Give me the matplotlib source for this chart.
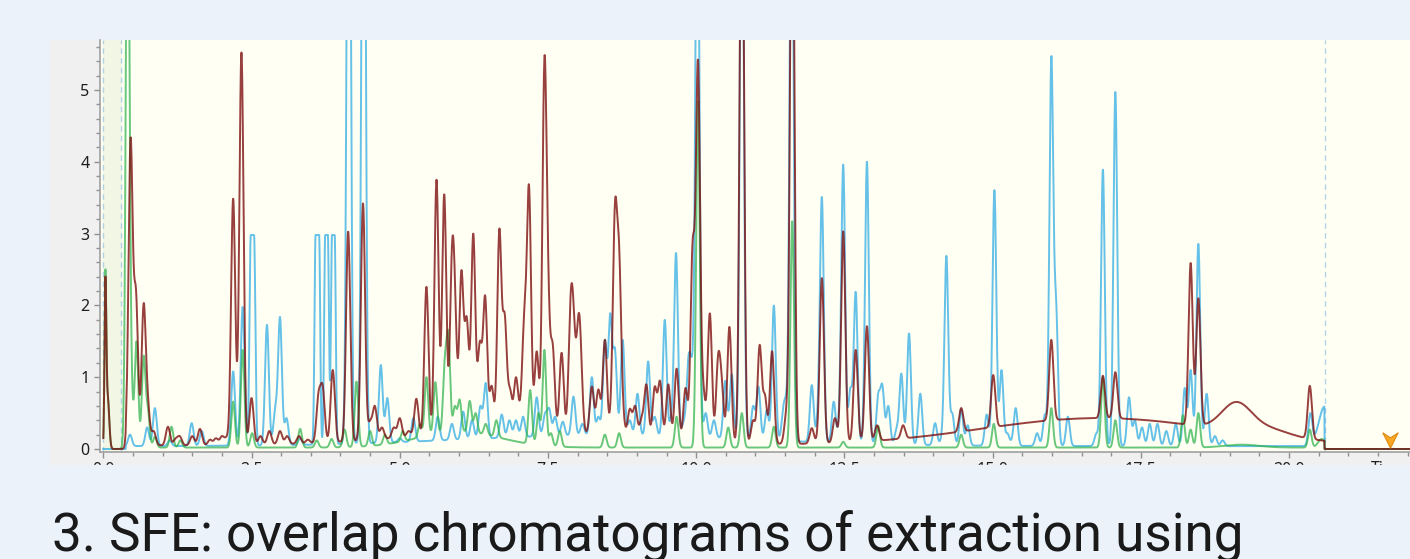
import numpy as np
import matplotlib
matplotlib.use('Agg')
from matplotlib import pyplot as plt
from matplotlib import transforms
from matplotlib.patches import Rectangle
from matplotlib.path import Path
from matplotlib.ticker import MultipleLocator, FormatStrFormatter

# apex values: (retention time [min], signal at apex)
blue_apex = [
    (0.45, 0.2), (0.74, 0.3), (0.87, 0.57), (1.12, 0.12), (1.49, 0.36), (1.66, 0.25),
    (2.19, 1.08), (2.35, 1.98), (2.76, 1.73), (2.90, 0.59), (2.98, 1.84), (3.09, 0.43),
    (3.32, 0.15), (4.14, 12.0), (4.39, 12.0), (4.68, 1.17), (4.79, 0.71), (5.00, 0.15),
    (5.23, 0.43), (5.64, 0.45), (5.88, 0.35), (6.07, 0.52), (6.22, 0.4), (6.36, 0.6),
    (6.45, 0.92), (6.72, 0.48), (6.85, 0.4), (6.96, 0.4), (7.08, 0.45), (7.31, 0.72),
    (7.45, 0.5), (7.52, 0.57), (7.62, 0.45), (7.75, 0.38), (7.93, 0.73), (8.08, 0.35),
    (8.24, 1.0), (8.35, 0.45), (8.46, 1.52), (8.55, 1.89), (8.63, 1.4), (8.76, 1.52),
    (8.88, 0.4), (9.01, 0.77), (9.19, 1.22), (9.30, 0.45), (9.47, 1.8), (9.58, 0.5),
    (9.66, 2.73), (9.79, 0.4), (9.87, 1.3), (9.93, 1.3), (10.02, 9.0), (10.16, 0.5),
    (10.30, 0.4), (10.49, 0.95), (10.60, 1.04), (10.77, 9.0), (10.96, 0.6), (11.05, 0.87),
    (11.19, 0.54), (11.31, 2.0), (11.47, 0.6), (11.52, 0.8), (11.61, 9.0), (11.95, 0.89),
    (12.06, 0.95), (12.12, 3.51), (12.32, 0.66), (12.42, 0.95), (12.48, 3.96), (12.60, 0.85),
    (12.69, 2.19), (12.88, 4.0), (13.07, 0.78), (13.14, 0.9), (13.24, 0.6), (13.38, 0.3),
    (13.46, 1.05), (13.59, 1.61), (13.78, 0.77), (14.03, 0.36), (14.15, 0.38), (14.22, 2.69),
    (14.32, 0.5), (14.47, 0.55), (14.58, 0.33), (14.90, 0.48), (15.03, 3.61), (15.15, 1.1),
    (15.25, 0.22), (15.33, 0.18), (15.39, 0.57), (15.75, 0.22), (15.88, 0.48), (15.99, 5.47),
    (16.07, 2.12), (16.27, 0.45), (16.75, 0.22), (16.86, 3.89), (17.07, 4.98), (17.30, 0.72),
    (17.40, 0.4), (17.52, 0.3), (17.65, 0.35), (17.78, 0.35), (17.93, 0.25), (18.09, 0.35),
    (18.24, 0.85), (18.34, 1.1), (18.47, 2.86), (18.61, 0.77), (18.75, 0.18), (18.88, 0.12),
    (20.36, 0.5),
]
# flat topped blue peaks: (time, plateau value, plateau width, flank sigma)
blue_flat = [(2.515, 2.98, 0.055, 0.022), (3.61, 2.98, 0.06, 0.018),
             (3.765, 2.98, 0.045, 0.018), (3.88, 2.98, 0.045, 0.018)]
# slow background features: (time, height, sigma)
blue_broad = [(8.5, 0.15, 2.5), (20.6, 0.55, 0.1)]

red_apex = [
    (0.40, 0.5), (0.46, 4.34), (0.55, 2.24), (0.68, 2.03), (0.75, 0.8), (0.85, 0.25),
    (1.09, 0.31), (1.22, 0.15), (1.29, 0.18), (1.50, 0.18), (1.63, 0.28), (1.80, 0.13),
    (1.90, 0.15), (2.00, 0.18), (2.08, 0.18), (2.19, 3.49), (2.33, 5.53), (2.50, 0.71),
    (2.65, 0.18), (2.80, 0.25), (2.98, 0.25), (3.10, 0.18), (3.30, 0.18), (3.45, 0.13),
    (3.63, 0.8), (3.70, 0.89), (3.87, 1.1), (4.13, 3.03), (4.38, 3.42), (4.50, 0.4),
    (4.58, 0.6), (4.70, 0.3), (4.90, 0.3), (5.00, 0.43), (5.15, 0.25), (5.28, 0.7),
    (5.45, 2.26), (5.62, 3.75), (5.75, 3.55), (5.88, 2.82), (5.93, 2.38), (6.04, 2.49),
    (6.13, 1.84), (6.24, 3.0), (6.35, 1.5), (6.44, 2.14), (6.55, 0.88), (6.68, 3.07),
    (6.77, 1.89), (6.86, 0.85), (6.96, 1.0), (7.03, 0.7), (7.10, 1.93), (7.18, 3.68),
    (7.31, 1.36), (7.44, 5.45), (7.50, 2.89), (7.58, 1.47), (7.73, 1.34), (7.88, 2.12),
    (7.93, 2.05), (8.01, 1.85), (8.05, 1.6), (8.24, 0.87), (8.35, 0.83), (8.46, 1.52),
    (8.57, 1.05), (8.63, 3.44), (8.70, 2.85), (8.76, 0.9), (8.88, 0.56), (8.97, 0.6),
    (9.08, 0.45), (9.16, 0.9), (9.30, 0.87), (9.39, 0.95), (9.53, 0.9), (9.67, 1.12),
    (9.82, 0.85), (9.94, 2.91), (10.03, 5.42), (10.12, 0.95), (10.23, 1.89), (10.37, 1.32),
    (10.43, 1.02), (10.56, 1.7), (10.77, 9.0), (10.96, 0.4), (11.07, 1.45), (11.16, 0.76),
    (11.28, 1.36), (11.52, 0.6), (11.62, 9.0), (11.95, 0.29), (12.06, 0.63), (12.12, 2.38),
    (12.34, 0.43), (12.48, 3.03), (12.69, 1.38), (12.88, 1.71), (13.05, 0.33), (13.49, 0.33),
    (14.47, 0.57), (15.01, 1.03), (15.99, 1.52), (16.86, 1.02), (17.07, 1.07), (18.34, 2.59),
    (18.47, 2.1), (20.35, 0.88),
]
red_broad = [(0.035, 2.2, 0.015), (0.075, 0.7, 0.025), (7.0, 0.2, 1.8),
             (16.8, 0.38, 2.0), (19.11, 0.38, 0.25), (19.65, 0.1, 0.35)]

green_apex = [
    (0.41, 9.0), (0.47, 1.9), (0.56, 1.5), (0.68, 1.3), (0.75, 0.6), (0.87, 0.17),
    (1.15, 0.31), (1.30, 0.12), (2.19, 0.66), (2.35, 1.38), (2.51, 0.22), (3.32, 0.28),
    (3.60, 0.12), (3.85, 0.14), (4.07, 0.27), (4.27, 0.94), (4.50, 0.25), (4.75, 0.2),
    (5.05, 0.25), (5.34, 0.35), (5.45, 1.0), (5.60, 0.93), (5.76, 1.29), (5.82, 1.63),
    (5.93, 0.6), (6.01, 0.69), (6.18, 0.67), (6.28, 0.5), (6.45, 0.35), (6.63, 0.4),
    (7.20, 0.82), (7.34, 0.5), (7.44, 1.38), (7.55, 0.22), (7.70, 0.25), (8.46, 0.2),
    (8.70, 0.22), (9.67, 0.45), (10.03, 4.85), (10.54, 0.3), (10.77, 0.5), (11.31, 0.31),
    (11.62, 3.17), (12.48, 0.1), (13.07, 0.32), (14.47, 0.2), (15.02, 0.35), (15.99, 0.57),
    (16.86, 1.0), (17.07, 0.4), (18.21, 0.47), (18.34, 0.27), (18.47, 0.5), (20.35, 0.27),
]
green_broad = [(0.035, 2.3, 0.015), (0.075, 0.7, 0.025), (6.0, 0.22, 0.7),
               (19.2, 0.04, 0.3), (20.55, 0.12, 0.06)]

run_end = 20.6
x_end = 22.2
bg_col = '#EBF2FA'


def shape(t, c, s, w=0.0):
    d = np.maximum(np.abs(t - c) - w / 2, 0)
    return np.exp(-d ** 2 / (2 * s ** 2))


def chrom(t, apex, flat, broad, sigma, offset):
    cen = np.array([p[0] for p in apex] + [p[0] for p in flat])
    tgt = np.array([p[1] for p in apex] + [p[1] for p in flat])
    wid = np.array([0.0] * len(apex) + [p[2] for p in flat])
    sig = np.array([sigma] * len(apex) + [p[3] for p in flat])

    def bg(x):
        y = np.where(x >= 0.38, offset, 0.0)
        for c, h, s in broad:
            y = y + h * shape(x, c, s)
        return y

    A = np.array([[shape(ci, cj, sj, wj) for cj, sj, wj in zip(cen, sig, wid)] for ci in cen])
    b = tgt - bg(cen)
    keep = np.ones(len(cen), bool)
    h = np.zeros(len(cen))
    for _ in range(20):
        h[:] = 0
        h[keep] = np.linalg.solve(A[np.ix_(keep, keep)], b[keep])
        if (h >= 0).all():
            break
        keep &= h > 0
    h = np.clip(h, 0, None)
    y = bg(t)
    for c, hh, s, w in zip(cen, h, sig, wid):
        y = y + hh * shape(t, c, s, w)
    return y


t = np.arange(0, run_end, 0.004)
blue = chrom(t, blue_apex, blue_flat, blue_broad, 0.032, 0.04)
red = chrom(t, red_apex, [], red_broad, 0.035, 0.05)
green = chrom(t, green_apex, [], green_broad, 0.03, 0.02)
blue[t < 0.38] = 0
tt = np.append(t, [run_end, x_end])

W, H = 1410, 559
fig = plt.figure(figsize=(W / 100, H / 100), dpi=100, facecolor=bg_col)

# grey panel behind the plot
fig.patches.append(Rectangle((50 / W, 1 - 465 / H), 1360 / W, 425 / H,
                             transform=fig.transFigure, color='#F0F0F0', zorder=-1))

ax = fig.add_axes([100 / W, 1 - 452 / H, 1310 / W, 412 / H])
ax.set_facecolor('#FFFFF4')
ax.set_xlim(-0.056, 22.04)
ax.set_ylim(-0.042, 5.696)

ax.axvspan(0, 0.3, color='#F1F7E4', zorder=0)
for xv in (0, 0.3, run_end):
    ax.axvline(xv, color='#B4D2E6', lw=1, ls=(0, (4, 3)), zorder=1)

for y, col, a in ((blue, '#2AA9E2', 0.72), (green, '#2FB24C', 0.72), (red, '#7E1010', 0.8)):
    ax.plot(tt, np.append(y, [0, 0]), color=col, lw=1.4, alpha=a, zorder=3)

# end-of-run marker
vmark = Path([(-1, 1), (0, -1), (1, 1), (0, 0.35), (-1, 1)])
ax.plot([21.7], [0.13], marker=vmark, ms=11, color='#F7A823', mec='#E08A10', mew=0.8, zorder=4)

for s in ('top', 'right'):
    ax.spines[s].set_visible(False)
for s in ('left', 'bottom'):
    ax.spines[s].set_color('#A0A0A0')
    ax.spines[s].set_linewidth(1.2)

ax.yaxis.set_major_locator(MultipleLocator(1))
ax.yaxis.set_minor_locator(MultipleLocator(0.2))
ax.xaxis.set_major_locator(MultipleLocator(2.5))
ax.xaxis.set_minor_locator(MultipleLocator(0.5))
ax.xaxis.set_major_formatter(FormatStrFormatter('%.1f'))
ax.tick_params(which='both', direction='out', color='#909090', length=4, width=1,
               labelsize=11.5, labelcolor='#1E1E1E', pad=3.5)
ax.tick_params(which='minor', length=3)
for lab in ax.get_xticklabels() + ax.get_yticklabels():
    lab.set_family('Noto Sans')
ax.text(1371, 1 - 461 / H, 'Ti', transform=transforms.blended_transform_factory(
    transforms.IdentityTransform(), fig.transFigure),
    fontsize=11.5, family='Noto Sans', color='#1E1E1E', va='top', ha='left', clip_on=False)

# page background hides the lower part of the tick labels
fig.patches.append(Rectangle((0, 0), 1, (H - 465) / H, transform=fig.transFigure,
                             color=bg_col, zorder=10))

cap = fig.text(52 / W, 1 - 551 / H, '3. SFE: overlap chromatograms of extraction using',
               fontsize=40, family='Roboto', color='#1A1A1A', va='baseline', ha='left', zorder=11)
r = fig.canvas.get_renderer()
wpx = cap.get_window_extent(r).width
cap.set_fontsize(40 * 1191 / wpx)

fig.savefig('out.png', dpi=100, facecolor=bg_col)
